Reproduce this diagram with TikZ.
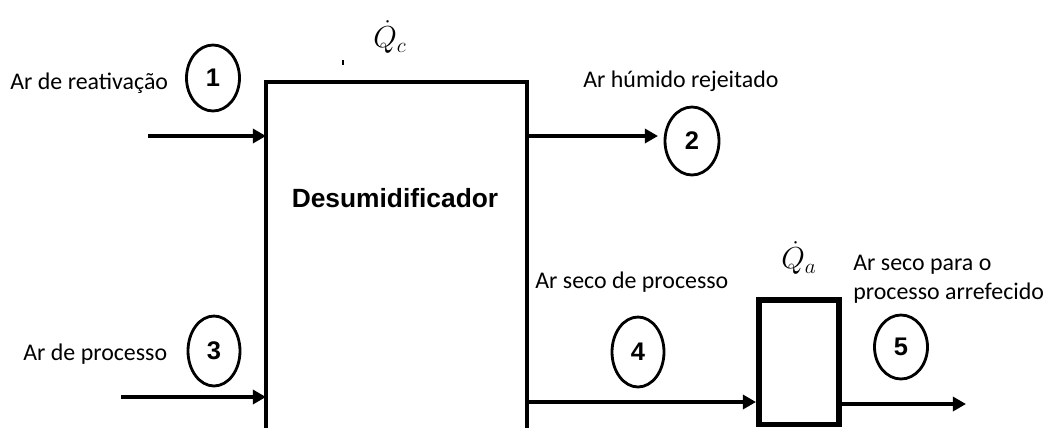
\documentclass[tikz,border=0pt]{standalone}
\usepackage{fontspec}
\setmainfont{Carlito}
\newfontfamily\arialfont{Liberation Sans}
\usetikzlibrary{arrows.meta,positioning,shapes.geometric}

\begin{document}
\begin{tikzpicture}[
x=0.02cm, y=-0.02cm,
streamtext/.style={inner sep=0pt, font=\fontsize{13.6}{16.5}\selectfont},
statenum/.style={draw, ellipse, line width=1.6pt, inner sep=0pt, font=\arialfont\bfseries\fontsize{14.5}{14.5}\selectfont},
heat/.style={inner sep=0pt, font=\fontsize{17}{17}\selectfont},
flow/.style={-{Triangle[length=7.5pt,width=8pt]}, line width=2pt}
]
\useasboundingbox (0,0) rectangle (1048,427);

% units
\node (dev) [rectangle, minimum width=5.2cm, minimum height=7cm, inner sep=0pt, anchor=north west] at (266,82) {};
\node (devtext) at (395,198) {\arialfont\bfseries\fontsize{15}{17}\selectfont Desumidificador};
\node (cool) [draw, rectangle, line width=3.4pt, minimum width=1.6cm, minimum height=2.5cm, inner sep=0pt] at (799,362) {};

% heat
\node (qc) [heat] at (390,37) {$\dot{Q}_c$};
\node (qa) [heat] at (799,258) {$\dot{Q}_a$};

% stream labels
\node (lab1) [streamtext, anchor=west] at (10,83) {Ar de reativação};
\node (lab2) [streamtext, anchor=west] at (583,81) {Ar húmido rejeitado};
\node (lab3) [streamtext, anchor=west] at (23,354) {Ar de processo};
\node (lab4) [streamtext, anchor=west] at (535,282) {Ar seco de processo};
\node (lab5) [streamtext, anchor=west, align=left] at (853,279) {Ar seco para o\\processo arrefecido};

% state points
\node (s1) [statenum, minimum width=1.06cm, minimum height=1.32cm] at (213,78) {1};
\node (s2) [statenum, minimum width=1.08cm, minimum height=1.36cm] at (692,141) {2};
\node (s3) [statenum, minimum width=1.04cm, minimum height=1.4cm] at (214,351) {3};
\node (s4) [statenum, minimum width=1.04cm, minimum height=1.4cm] at (638,352) {4};
\node (s5) [statenum, minimum width=1.06cm, minimum height=1.28cm] at (901,347) {5};

% free ends
\coordinate (in1) at (148,136);
\coordinate (out2) at (658,136);
\coordinate (in3) at (121,397);
\coordinate (out5) at (966,404);

\draw[line width=2.2pt] (dev.south west) -- (dev.north west) -- (dev.north east) -- (dev.south east);
\draw[line width=0.8pt] (343,60) -- (343,65);

\draw[flow] (in1) -- (in1 -| dev.west);
\draw[flow] (out2 -| dev.east) -- (out2);
\draw[flow] (in3) -- (in3 -| dev.west);
\draw[flow] (dev.east |- 0,402) -- (cool.west |- 0,402);
\draw[flow] (cool.east |- out5) -- (out5);

\end{tikzpicture}
\end{document}
